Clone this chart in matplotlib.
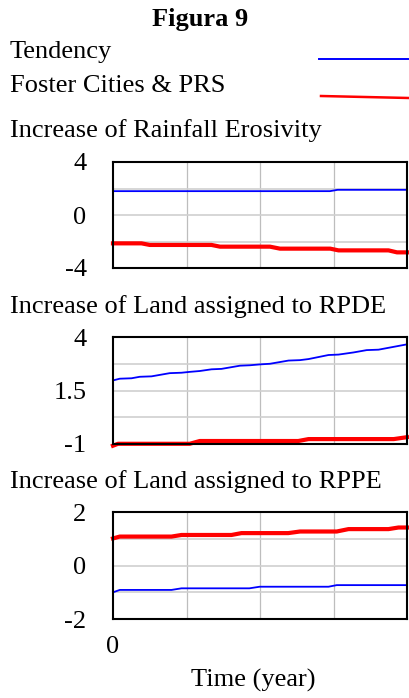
import matplotlib
matplotlib.use("Agg")
import matplotlib.pyplot as plt
from matplotlib.lines import Line2D
from matplotlib.transforms import ScaledTranslation

plt.rcParams['font.family'] = ['Liberation Serif', 'DejaVu Serif']

W, H = 409, 698

# time axis (years, arbitrary run length)
time_ticks = [0, 25, 50, 75, 100]

# Increase of Rainfall Erosivity
rain_tend_t = [0, 73.8, 76.4, 100]
rain_tend_v = [1.8, 1.8, 1.9, 1.9]
rain_fc_t = [0, 9.7, 12.5, 33.5, 36.4, 53.4, 56.8, 73.9, 76.7, 93.7, 96.6, 100]
rain_fc_v = [-2.14, -2.14, -2.26, -2.26, -2.39, -2.39, -2.54, -2.54,
             -2.67, -2.67, -2.82, -2.82]

# Increase of Land assigned to RPDE
rpde_tend_t = [0, 2.3, 6.3, 9.1, 13.1, 19.3, 23.3, 26.1, 29.5, 33.5, 36.9,
               43.2, 46.6, 50, 53.4, 59.7, 63.6, 66.5, 73.3, 76.7, 81.8,
               86.3, 90.3, 100]
rpde_tend_v = [1.98, 2.06, 2.08, 2.15, 2.17, 2.32, 2.34, 2.38, 2.42, 2.5,
               2.52, 2.67, 2.69, 2.73, 2.76, 2.91, 2.93, 2.98, 3.17, 3.19,
               3.29, 3.4, 3.42, 3.67]
rpde_fc_t = [0, 1.7, 26.1, 29.5, 63.0, 66.5, 95.5, 100]
rpde_fc_v = [-1.08, -0.99, -0.99, -0.86, -0.86, -0.77, -0.77, -0.68]

# Increase of Land assigned to RPPE
rppe_tend_t = [0, 2.3, 19.9, 23.3, 46.4, 49.9, 73.3, 76.1, 100]
rppe_tend_v = [-1.0, -0.91, -0.91, -0.85, -0.85, -0.79, -0.79, -0.73, -0.73]
rppe_fc_t = [0, 2.3, 19.9, 23.3, 40.3, 43.7, 59.6, 63.6, 76.1, 80.1, 93.7,
             97.1, 100]
rppe_fc_v = [1.02, 1.09, 1.09, 1.15, 1.15, 1.22, 1.22, 1.28, 1.28, 1.37,
             1.37, 1.43, 1.43]

panels = [
    ("Increase of Rainfall Erosivity", 162, 268, (-4, 4), [4, 0, -4],
     [-2, 2], rain_tend_t, rain_tend_v, rain_fc_t, rain_fc_v, 137),
    ("Increase of Land assigned to RPDE", 337.3, 444, (-1, 4), [4, 1.5, -1],
     [0.25, 2.75], rpde_tend_t, rpde_tend_v, rpde_fc_t, rpde_fc_v, 313),
    ("Increase of Land assigned to RPPE", 512.3, 619, (-2, 2), [2, 0, -2],
     [-1, 1], rppe_tend_t, rppe_tend_v, rppe_fc_t, rppe_fc_v, 488),
]

fig = plt.figure(figsize=(W / 100, H / 100), dpi=100)
fs = 19


def fx(x):
    return x / W


def fy(y):
    return 1 - y / H


fig.text(fx(200), fy(26), "Figura 9", ha='center', va='baseline',
         fontsize=19, fontweight='bold')
fig.text(fx(10), fy(58), "Tendency", va='baseline', fontsize=fs)
fig.text(fx(10), fy(92), "Foster Cities & PRS", va='baseline', fontsize=fs)
fig.add_artist(Line2D([fx(319), fx(409)], [fy(59), fy(59)], color='#0000ff',
                      lw=1.4, transform=fig.transFigure))
fig.add_artist(Line2D([fx(321), fx(409)], [fy(96), fy(98)], color='#ff0000',
                      lw=1.8, transform=fig.transFigure))

# nudge y tick labels a little downwards, as in the original
shift = ScaledTranslation(0, -3 / 100, fig.dpi_scale_trans)

left, right = 113, 407
for i, (title, top, bot, ylim, yt, ygrid, bt, bv, rt, rv, tb) in enumerate(panels):
    fig.text(fx(10), fy(tb), title, va='baseline', fontsize=fs)
    ax = fig.add_axes([fx(left), fy(bot), (right - left) / W, (bot - top) / H])
    ax.set_xlim(0, 100)
    ax.set_ylim(*ylim)
    for g in time_ticks[1:-1]:
        ax.axvline(g, color='#bdbdbd', lw=0.9, zorder=1)
    for g in yt[1:-1] + ygrid:
        ax.axhline(g, color='#d0d0d0', lw=1.2, zorder=1)
    ax.plot(bt, bv, color='#0000ff', lw=1.3, zorder=3, clip_on=False)
    ax.plot(rt, rv, color='#ff0000', lw=3.0, zorder=3, clip_on=False)
    ax.set_yticks(yt)
    ax.set_yticklabels([f"{v:g}" for v in yt], fontsize=fs)
    for lbl in ax.get_yticklabels():
        lbl.set_transform(lbl.get_transform() + shift)
    ax.set_xticks(time_ticks)
    if i == 2:
        ax.set_xticklabels(['0', '', '', '', ''], fontsize=fs)
    else:
        ax.set_xticklabels([])
    ax.tick_params(length=0, pad=19, axis='y')
    ax.tick_params(length=0, pad=12, axis='x')
    for s in ax.spines.values():
        s.set_linewidth(1.5)
        s.set_color('black')
        s.set_zorder(4)

fig.text(fx(253.5), fy(687), "Time (year)", ha='center', va='baseline',
         fontsize=fs)

plt.savefig('out.png', dpi=100)
